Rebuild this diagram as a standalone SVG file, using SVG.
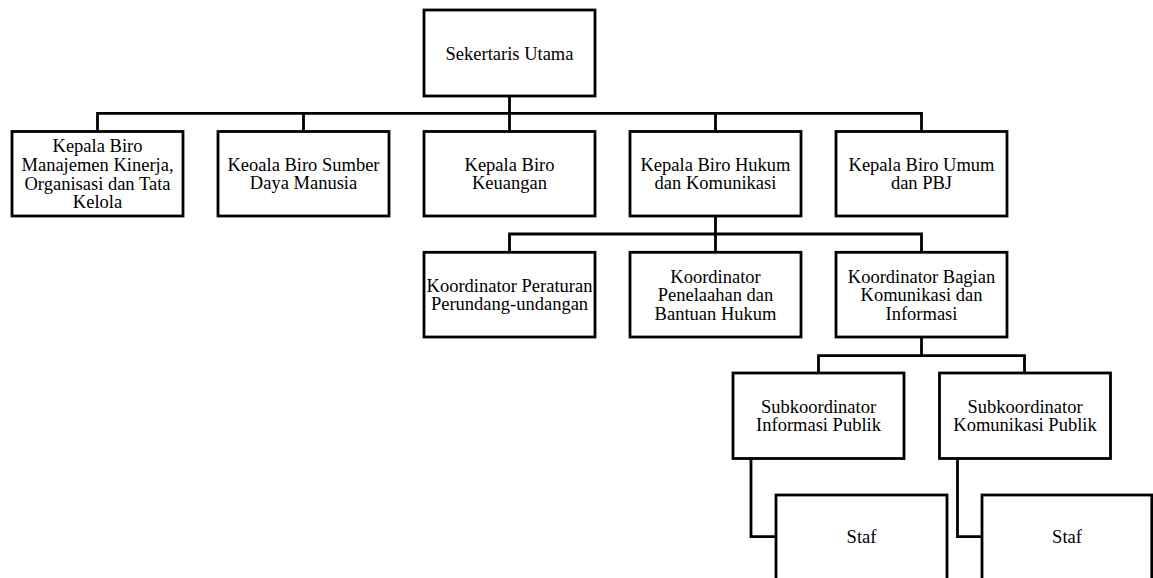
<svg xmlns="http://www.w3.org/2000/svg" width="1153" height="578" viewBox="0 0 1153 578">
<style>
rect{fill:#fff;stroke:#000;stroke-width:2.8}
.c path{fill:none;stroke:#000;stroke-width:2.8}
text{font-family:"Liberation Serif","Times New Roman",serif;font-size:18.5px;fill:#000;text-anchor:middle}
</style>
<rect x="0" y="0" width="1153" height="578" style="stroke:none"/>
<g class="c" id="connectors">
<path d="M509.5 96V113.3M97.5 131.5V113.3H921.5V131.5M303.5 113.3V131.5M509.5 113.3V131.5M715.5 113.3V131.5"/>
<path d="M715.5 216V234M509.5 252.3V234H921.5V252.3M715.5 234V252.3"/>
<path d="M921.5 337V355.7M818.5 373V355.7H1024.5V373"/>
<path d="M751 459V536.7H776M957.5 459V536.7H982"/>
</g>
<g id="n0"><rect x="424" y="10" width="171" height="86"/><text x="509.5" y="60">Sekertaris Utama</text></g>
<g id="n1"><rect x="12" y="131.5" width="171" height="84.5"/><text x="97.5" y="151.5">Kepala Biro</text><text x="97.5" y="170.5">Manajemen Kinerja,</text><text x="97.5" y="189.5">Organisasi dan Tata</text><text x="97.5" y="208">Kelola</text></g>
<g id="n2"><rect x="218" y="131.5" width="171" height="84.5"/><text x="303.5" y="170.7">Keoala Biro Sumber</text><text x="303.5" y="189">Daya Manusia</text></g>
<g id="n3"><rect x="424" y="131.5" width="171" height="84.5"/><text x="509.5" y="170.7">Kepala Biro</text><text x="509.5" y="189">Keuangan</text></g>
<g id="n4"><rect x="630" y="131.5" width="171" height="84.5"/><text x="715.5" y="170.7">Kepala Biro Hukum</text><text x="715.5" y="189">dan Komunikasi</text></g>
<g id="n5"><rect x="836" y="131.5" width="171" height="84.5"/><text x="921.5" y="170.7">Kepala Biro Umum</text><text x="921.5" y="189">dan PBJ</text></g>
<g id="n6"><rect x="424" y="252.3" width="171" height="84.7"/><text x="509.5" y="291.7">Koordinator Peraturan</text><text x="509.5" y="310">Perundang-undangan</text></g>
<g id="n7"><rect x="630" y="252.3" width="171" height="84.7"/><text x="715.5" y="282.5">Koordinator</text><text x="715.5" y="301">Penelaahan dan</text><text x="715.5" y="319.5">Bantuan Hukum</text></g>
<g id="n8"><rect x="836" y="252.3" width="171" height="84.7"/><text x="921.5" y="282.5">Koordinator Bagian</text><text x="921.5" y="301">Komunikasi dan</text><text x="921.5" y="319.5">Informasi</text></g>
<g id="n9"><rect x="733" y="373" width="171" height="85.5"/><text x="818.5" y="412.7">Subkoordinator</text><text x="818.5" y="431">Informasi Publik</text></g>
<g id="n10"><rect x="939.5" y="373" width="171" height="85.5"/><text x="1025" y="412.7">Subkoordinator</text><text x="1025" y="431">Komunikasi Publik</text></g>
<g id="n11"><rect x="776" y="495" width="171" height="110"/><text x="861.5" y="543.3">Staf</text></g>
<g id="n12"><rect x="982" y="495" width="169.8" height="110"/><text x="1067" y="543.3">Staf</text></g>
</svg>
